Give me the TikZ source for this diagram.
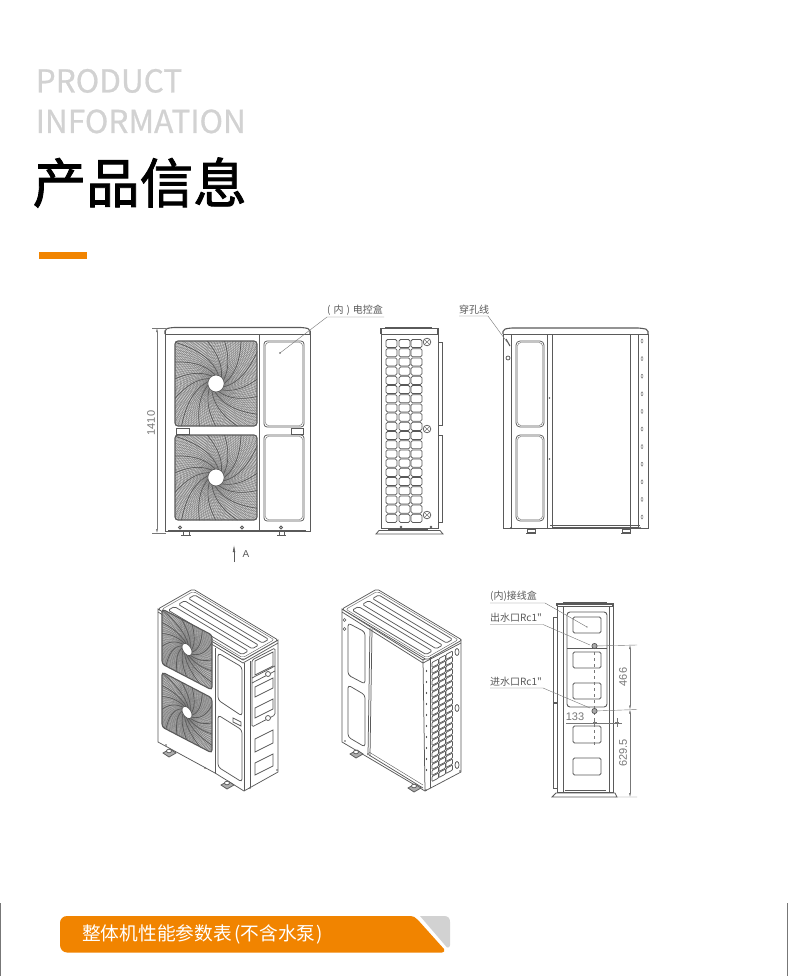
\documentclass[tikz,border=0pt]{standalone}
\usepackage{fontspec}
\setmainfont{Liberation Sans}
\newfontfamily\cjk{Noto Sans CJK SC}
\newfontfamily\cjkmid{Noto Sans CJK SC}[FakeBold=0.6]
\newfontfamily\cjkheavy{Noto Sans CJK SC}[FakeBold=1.6]
\usetikzlibrary{calc,arrows.meta}
\definecolor{brandorange}{HTML}{F18400}
\definecolor{linegray}{HTML}{5A5A5A}
\definecolor{midgray}{HTML}{777777}
\definecolor{headgray}{HTML}{D2D2D2}
\tikzset{
  ol/.style={draw=linegray,line width=0.75pt},
  olt/.style={draw=linegray,line width=0.4pt},
  olk/.style={draw=linegray,line width=1.1pt},
  label text/.style={inner sep=0pt,text=linegray,font=\cjk\fontsize{10}{11}\selectfont},
  dimtext/.style={inner sep=0pt,text=midgray,font=\fontsize{11}{12}\selectfont},
  dim/.style={draw=midgray,line width=0.4pt},
  dimarrow/.style={dim,{Latex[length=4pt,width=2pt]}-{Latex[length=4pt,width=2pt]}},
  leader/.style={draw=midgray,line width=0.4pt},
  head/.style={inner sep=0pt,anchor=base west,text=headgray,font=\cjkmid\fontsize{31.6}{32}\selectfont}
}
% fan grille drawn in unit square [-1,1]^2 of the current (possibly skewed) axes
\newcommand{\fanart}[2]{%
  \begin{scope}
    \clip[rounded corners=3pt] (-1,-1) -- (1,-1) -- (1,1) -- (-1,1) -- cycle;
    \fill[midgray!35] (-1,-1) -- (1,-1) -- (1,1) -- (-1,1) -- cycle;
    \foreach \r in {0.24,0.275,...,1.42} \draw[draw=midgray,line width=#1] (0,0) circle[radius=\r];
    \foreach \a in {0,#2,...,359}
      \draw[draw=midgray,line width=#1] (\a:0.2) .. controls ({\a+25}:0.55) and ({\a+45}:0.9) .. ({\a+65}:1.45);
    \foreach \a in {0,24,...,350}
      \draw[draw=linegray,line width=0.7pt] (\a:0.2) .. controls ({\a+25}:0.55) and ({\a+45}:0.9) .. ({\a+65}:1.45);
  \end{scope}
  \draw[olk,rounded corners=3pt] (-1,-1) -- (1,-1) -- (1,1) -- (-1,1) -- cycle;
  \fill[white] (0,0) circle[radius=0.2];
  \draw[ol] (0,0) circle[radius=0.2];
}
% sloped top of an isometric unit
\newcommand{\isotop}[2]{%
  \begin{scope}[shift={(#1,#2)},x={(85pt,-51pt)},y={(35pt,20pt)}]
    \draw[ol,fill=white,rounded corners=2pt] (0,0) -- (1,0) -- (1,1) -- (0,1) -- cycle;
    \draw[olt,rounded corners=2pt] (0.025,0.05) -- (0.975,0.05) -- (0.975,0.95) -- (0.025,0.95) -- cycle;
    \foreach \s/\e in {0.12/0.30,0.41/0.59,0.70/0.88}
      \draw[ol,rounded corners=1.6pt] (0.07,\s) -- (0.94,\s) -- (0.94,\e) -- (0.07,\e) -- cycle;
  \end{scope}
}
\newcommand{\foot}[2]{%
  \draw[ol,fill=midgray!60] (#1-6,#2+1) -- (#1+1,#2-3) -- (#1+7,#2+1) -- (#1,#2+5) -- cycle;
  \draw[ol,fill=white] (#1,#2-1) ellipse[x radius=2.5,y radius=1.8];
}
\begin{document}
\begin{tikzpicture}[x=1pt,y=-1pt]
\useasboundingbox (0,0) rectangle (790,976);
\fill[white] (0,0) rectangle (790,976);

% ---------- header ----------
\node[head] (h1) at (35.5,92.5) {PRODUCT};
\node[head] (h2) at (35.5,133) {INFORMATION};
\node[inner sep=0pt,anchor=base west,text=black,font=\cjkheavy\fontsize{53.5}{54}\selectfont] (h3) at (32.5,203) {产品信息};
\fill[brandorange] (39,252) rectangle (87,259);

% ---------- front view ----------
\draw[ol] (165,331) -- (165,531) -- (310,531) -- (310,331);
\draw[olk,rounded corners=2pt] (165,334) -- (165,329) -- (172,327.5) -- (303,327.5) -- (310,329) -- (310,334);
\draw[ol] (165,334) -- (310,334);
\draw[ol] (259,334) -- (259,531);
\draw[ol] (310,340) -- (310,520);
\begin{scope}[shift={(216,383.5)},x={(41pt,0pt)},y={(0pt,42.5pt)}] \fanart{0.3pt}{4} \end{scope}
\begin{scope}[shift={(216,477.5)},x={(41pt,0pt)},y={(0pt,42.5pt)}] \fanart{0.3pt}{4} \end{scope}
\draw[ol,rounded corners=3pt] (264,341) rectangle (304,427);
\draw[ol,rounded corners=3pt] (264,435) rectangle (304,521);
\draw[olt,rounded corners=3pt] (265.5,342.5) rectangle (302.5,425.5);
\draw[olt,rounded corners=3pt] (265.5,436.5) rectangle (302.5,519.5);
\draw[ol,fill=white] (176,428) rectangle (189,434);
\draw[ol,fill=white] (291,428) rectangle (303,434);
\draw[olk] (168,531) -- (306,531);
\foreach \x in {180,242,281} \draw[ol,fill=white] (\x,527.5) circle[radius=1.5];
\draw[ol] (181,535) -- (191,535) (183,531) -- (183,535) (189,531) -- (189,535);
\draw[ol] (277,535) -- (286,535) (279,531) -- (279,535) (284,531) -- (284,535);
% dimension 1410
\coordinate (d1a) at (157,328);
\coordinate (d1b) at (157,533);
\draw[dim] (152,328) -- (166,328) (152,533) -- (166,533);
\draw[dimarrow] (d1a) -- (d1b);
\node[dimtext,rotate=90] (d1t) at (151,423) {1410};
% arrow A
\coordinate (arA) at (234,562);
\coordinate (arB) at (234,545);
\draw[draw=linegray,line width=0.5pt,-{Latex[length=7pt,width=2.6pt]}] (arA) -- (arB);
\node[dimtext,text=linegray,font=\fontsize{10}{11}\selectfont] (tA) at (246,554) {A};
% leader
\node[label text,anchor=base west] (lb1) at (327,313.5) {(\hspace{3pt}内\hspace{3pt})\hspace{3pt}电控盒};
\coordinate (lb1a) at (327,317);
\coordinate (lb1b) at (384,317);
\coordinate (lb1c) at (280,353);
\draw[leader] (lb1b) -- (lb1a) -- (lb1c);
\fill[linegray] (lb1c) circle[radius=0.8];

% ---------- side view ----------
\draw[ol] (381,334) rectangle (438,528);
\draw[olk] (381,334) -- (381,328.5) -- (438,328.5) -- (438,334);
\draw[olk] (385,327.5) -- (432,327.5);
\draw[ol] (438,342) -- (442,342) -- (442,425) -- (438,425);
\draw[ol] (438,435) -- (442,435) -- (442,522) -- (438,522);
\foreach \cx in {386,399,411} \foreach \n in {0,...,19}
  \draw[ol,rounded corners=1.5pt] (\cx,339.5+9.2*\n) rectangle (\cx+11,339.5+9.2*\n+8.1);
\foreach \cy in {342,429,515} {
  \draw[ol] (427,\cy) circle[radius=3.8];
  \draw[olt] (424.8,\cy-2) -- (429.2,\cy+2) (424.8,\cy+2) -- (429.2,\cy-2);
}
\draw[ol,fill=white,line width=0.8pt] (376,534) -- (379,530.5) -- (440,530.5) -- (443,534) -- cycle;
\draw[olk] (388,530) -- (428,530);
\foreach \x in {401,431} \fill[linegray] (\x,527) circle[radius=1.3];

% ---------- rear view ----------
\draw[ol] (503,334) rectangle (648,528);
\draw[olk,rounded corners=2pt] (503,334) -- (503,329.5) -- (510,328) -- (640,328) -- (648,329.5) -- (648,334);
\draw[ol] (511,334) -- (511,528);
\draw[ol] (547,334) -- (547,528) (552,334) -- (552,528);
\draw[olt] (630,334) -- (630,528);
\draw[ol] (638,334) -- (638,528);
\foreach \n in {0,...,10} \draw[olt] (642,341+17.6*\n) ellipse[x radius=1,y radius=2];
\draw[ol,rounded corners=4pt] (516,341) rectangle (544,427);
\draw[ol,rounded corners=4pt] (516,435) rectangle (544,521);
\draw[olt,rounded corners=3.5pt] (517.5,342.5) rectangle (542.5,425.5);
\draw[olt,rounded corners=3.5pt] (517.5,436.5) rectangle (542.5,519.5);
\foreach \y in {398,459} \fill[linegray] (549.5,\y) circle[radius=0.9];
\draw[olk] (552,528) -- (638,528);
\draw[ol] (550,525) -- (640,525);
\draw[ol] (508,358) circle[radius=2];
\draw[olk] (506,339) -- (510,346);
\fill[linegray] (511,528) circle[radius=1.2] (640,528) circle[radius=1.2];
\foreach \x in {531,626} {
  \draw[ol,fill=white] (\x-4,529) rectangle (\x+4,532);
  \draw[olk] (\x-5,533.5) -- (\x+5,533.5);
}
\node[label text,anchor=base west] (lb2) at (459,313.5) {穿孔线};
\coordinate (lb2a) at (459,316);
\coordinate (lb2b) at (488,316);
\coordinate (lb2c) at (507,342);
\draw[leader] (lb2a) -- (lb2b) -- (lb2c);

% ---------- isometric view 1 ----------
\draw[ol,fill=white] (158,609) -- (158,742) -- (215,773) -- (244,791) -- (278,772) -- (278,640) -- (243,660) -- cycle;
\isotop{158}{609}
\draw[ol] (158,612) -- (243,663) -- (278,643);
\draw[ol] (244,663) -- (244,791);
\draw[ol] (250,661) -- (250,787);
\draw[ol] (215,648) -- (215,773);
\begin{scope}[shift={(187,649.5)},x={(25pt,-13pt)},y={(0pt,27.5pt)}] \fanart{0.3pt}{5} \end{scope}
\begin{scope}[shift={(187,712.5)},x={(25pt,-13pt)},y={(0pt,27.5pt)}] \fanart{0.3pt}{5} \end{scope}
\draw[ol,rounded corners=3pt] (218,653) -- (242,667) -- (242,716) -- (218,700) -- cycle;
\draw[ol,rounded corners=3pt] (218,715) -- (242,730) -- (242,782) -- (218,767) -- cycle;
\draw[ol,fill=white] (233,718) -- (241,722) -- (241,726) -- (233,722) -- cycle;
% electrical enclosure on the narrow face
\draw[ol,rounded corners=1.5pt] (252,660) -- (275,648) -- (275,715) -- (252,727) -- cycle;
\draw[ol] (252,678) -- (275,666) (252,683) -- (275,671);
\foreach \ya/\h in {661/14,687/10,708/10,739/13,763/12}
  \draw[ol] (255,\ya) -- (273,\ya-9) -- (273,\ya-9+\h) -- (255,\ya+\h) -- cycle;
\foreach \y in {674,718} \draw[ol,fill=white] (268,\y) circle[radius=2.5];
\foreach \p in {(166,745),(205,768),(250,788),(277,770)} \fill[linegray] \p circle[radius=0.9];
\foot{169}{752}
\foot{227}{784}

% ---------- isometric view 2 ----------
\draw[ol,fill=white] (342,609) -- (342,742) -- (425,791) -- (461,772) -- (461,640) -- (423,660) -- cycle;
\isotop{342}{609}
\draw[ol] (342,612) -- (423,663) -- (461,643);
\draw[ol] (423,660) -- (425,791);
\draw[ol] (430,657) -- (430,788);
\draw[ol] (370,628) -- (368,755) (372,629) -- (370,756);
\draw[ol] (369,755) -- (423,788);
\draw[olt] (369,752) -- (423,785);
\draw[ol,rounded corners=3pt] (348,623) -- (365,632) -- (365,684) -- (348,675) -- cycle;
\draw[ol,rounded corners=3pt] (348,685) -- (365,695) -- (365,747) -- (348,737) -- cycle;
\foreach \y in {620,629} \draw[olt] (344.5,\y) circle[radius=1.5];
\foreach \c in {0,1,2} \foreach \n in {0,...,19}
  \draw[ol,fill=white,rounded corners=0.8pt]
    (432+7*\c,662.5-4*\c+6*\n) -- (438.5+7*\c,659-4*\c+6*\n) -- (438.5+7*\c,664-4*\c+6*\n) -- (432+7*\c,667.5-4*\c+6*\n) -- cycle;
\foreach \y in {652,708,765} \draw[ol,fill=white] (457,\y) ellipse[x radius=2,y radius=3.5];
\foreach \n in {0,...,9} \fill[linegray] (426.5,671+11*\n) ellipse[x radius=0.7,y radius=1.2];
\foreach \p in {(345,741),(368,754),(426,790),(460,771)} \fill[linegray] \p circle[radius=0.9];
\foot{356}{753}
\foot{414}{787}

% ---------- water side view ----------
\draw[ol] (557,606) rectangle (613,792);
\draw[olk] (557,606) -- (557,604) -- (613,604) -- (613,606);
\draw[olk] (563,603) -- (607,603);
\draw[ol] (563,606) -- (563,792) (609,606) -- (609,792);
\draw[ol] (557,617) -- (553,617) -- (553,702) -- (557,702);
\draw[ol] (557,703) -- (553,703) -- (553,788) -- (557,788);
\draw[ol,line width=0.9pt,rounded corners=3pt] (567,612) rectangle (607,707);
\draw[ol] (567,648) -- (607,648);
\foreach \a/\b in {617/633,652/668,683/699,726/743,758/775}
  \draw[ol,rounded corners=1.5pt] (573,\a) rectangle (601,\b);
\draw[ol,fill=white,line width=0.8pt] (552,797) -- (556,793) -- (615,793) -- (617,797) -- cycle;
\draw[olk] (565,790.5) -- (606,790.5);
\coordinate (w1) at (594.5,646);
\coordinate (w2) at (594.5,711);
\draw[dim,dashed] (w1) -- (594.5,745);
\draw[ol,fill=midgray!60] (w1) circle[radius=2.6];
\draw[ol,fill=midgray!60] (w2) circle[radius=2.6];
\coordinate (e1) at (637,645);
\coordinate (e2) at (637,709.5);
\coordinate (e3) at (637,797);
\draw[dim] (w1) -- (e1) (w2) -- (e2) (615,797) -- (e3);
\draw[dimarrow] (630,645) -- (630,709.5);
\draw[dimarrow] (630,709.5) -- (630,797);
\node[dimtext,rotate=90] (t466) at (623,677) {466};
\node[dimtext,rotate=90] (t629) at (623,753) {629.5};
\node[dimtext] (t133) at (575,717) {133};
\coordinate (d133a) at (566,723);
\coordinate (d133b) at (622,723);
\draw[dim] (d133a) -- (d133b);
\draw[dim] (594.5,718) -- (594.5,727) (617,718) -- (617,727);
\foreach \x in {594.5,617} \fill[midgray] (\x-2,722.3) rectangle (\x+2,723.7);
\node[label text,anchor=base west] (lb3) at (490,599) {(内)接线盒};
\coordinate (lb3a) at (490,603);
\coordinate (lb3b) at (545,603);
\coordinate (lb3c) at (587,627);
\draw[leader] (lb3a) -- (lb3b) -- (lb3c);
\fill[linegray] (lb3c) circle[radius=0.7];
\node[label text,anchor=base west] (lb4) at (490,621.5) {出水口Rc1"};
\coordinate (lb4a) at (490,624.5);
\coordinate (lb4b) at (543,624.5);
\coordinate (lb4c) at (590,645);
\draw[leader] (lb4a) -- (lb4b) -- (lb4c);
\node[label text,anchor=base west] (lb5) at (490,685) {进水口Rc1"};
\coordinate (lb5a) at (490,688);
\coordinate (lb5b) at (543,688);
\coordinate (lb5c) at (590,708);
\draw[leader] (lb5a) -- (lb5b) -- (lb5c);

% ---------- bottom band ----------
\draw[draw=midgray,line width=0.8pt] (0.5,903) -- (0.5,976);
\draw[draw=midgray,line width=0.8pt] (787.5,903) -- (787.5,976);
\fill[headgray] (420,916) -- (444,916) .. controls (448,916) and (450,918) .. (450,922) -- (450,945) .. controls (450,947) and (449,948) .. (447,947.5) -- cycle;
\fill[brandorange] (67,916) -- (408,916) .. controls (413,916) and (416,917) .. (418,920) -- (444,949) .. controls (445,951) and (444,952.5) .. (442,952.5) -- (67,952.5) .. controls (63,952.5) and (60,949) .. (60,945) -- (60,923) .. controls (60,919) and (63,916) .. (67,916) -- cycle;
\node[inner sep=0pt,anchor=west,text=white,font=\cjk\fontsize{18.7}{19}\selectfont] (band) at (82,934) {整体机性能参数表\hspace{2.5pt}(不含水泵\hspace{1pt})};
\end{tikzpicture}
\end{document}
